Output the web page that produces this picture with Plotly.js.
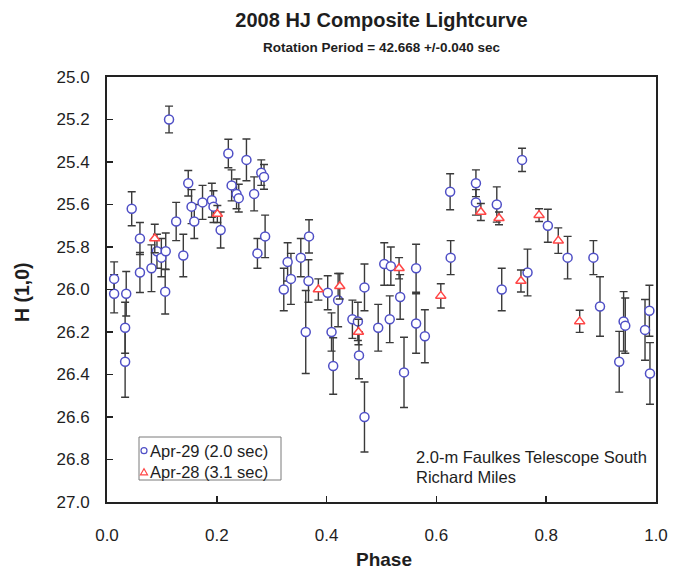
<!DOCTYPE html>
<html>
<head>
<meta charset="utf-8">
<script src="https://cdn.plot.ly/plotly-3.0.1.min.js"></script>
<style>html,body{margin:0;padding:0;background:#fff;}#chart{width:674px;height:571px;}</style>
</head>
<body>
<div id="chart"></div>
<script>
// Apr-29 (2.0 sec) series
const apr29Phase = [0.013,0.013,0.035,0.033,0.033,0.045,0.060,0.060,0.081,0.091,0.099,0.107,0.106,0.113,0.126,0.139,0.148,0.154,0.159,0.174,0.191,0.194,0.207,0.221,0.227,0.236,0.240,0.254,0.268,0.274,0.281,0.286,0.288,0.322,0.329,0.335,0.353,0.368,0.367,0.362,0.402,0.409,0.412,0.421,0.447,0.457,0.459,0.469,0.469,0.494,0.505,0.517,0.515,0.534,0.541,0.563,0.563,0.579,0.625,0.626,0.672,0.672,0.710,0.719,0.756,0.766,0.803,0.839,0.886,0.898,0.941,0.944,0.933,0.988,0.980,0.989];
const apr29H = [25.95,26.02,26.02,26.18,26.34,25.62,25.76,25.92,25.90,25.82,25.85,25.82,26.01,25.20,25.68,25.84,25.50,25.61,25.68,25.59,25.58,25.61,25.72,25.36,25.51,25.55,25.57,25.39,25.55,25.83,25.45,25.47,25.75,26.00,25.87,25.95,25.85,25.75,25.96,26.20,26.015,26.20,26.36,26.05,26.14,26.15,26.31,25.99,26.60,26.18,25.88,25.89,26.14,26.035,26.39,25.90,26.16,26.22,25.54,25.85,25.50,25.59,25.60,26.00,25.39,25.92,25.70,25.85,25.85,26.08,26.15,26.17,26.34,26.10,26.19,26.395];
const apr29Err = [0.08,0.09,0.105,0.12,0.167,0.08,0.075,0.094,0.11,0.08,0.09,0.086,0.105,0.063,0.09,0.10,0.06,0.08,0.08,0.08,0.08,0.075,0.085,0.067,0.073,0.07,0.065,0.098,0.08,0.07,0.06,0.058,0.10,0.10,0.09,0.12,0.09,0.078,0.10,0.195,0.08,0.09,0.133,0.125,0.09,0.09,0.11,0.11,0.165,0.11,0.10,0.09,0.11,0.105,0.165,0.113,0.14,0.125,0.085,0.08,0.063,0.06,0.083,0.10,0.055,0.11,0.078,0.10,0.08,0.14,0.14,0.13,0.143,0.12,0.143,0.145];

// Apr-28 (3.1 sec) series
const apr28Phase = [0.087,0.201,0.385,0.424,0.458,0.532,0.608,0.681,0.714,0.754,0.787,0.822,0.861];
const apr28H = [25.76,25.645,26.00,25.985,26.20,25.90,26.03,25.635,25.665,25.96,25.65,25.77,26.15];
const apr28Err = [0.067,0.04,0.05,0.06,0.06,0.05,0.057,0.04,0.03,0.052,0.03,0.06,0.052];

const seriesNames = ['Apr-29 (2.0 sec)', 'Apr-28 (3.1 sec)'];
const xTickVals = [0, 0.2, 0.4, 0.6, 0.8, 1.0];
const xTickText = ['0.0','0.2','0.4','0.6','0.8','1.0'];
const yTickVals = [25.0,25.2,25.4,25.6,25.8,26.0,26.2,26.4,26.6,26.8,27.0];
const yTickText = ['25.0','25.2','25.4','25.6','25.8','26.0','26.2','26.4','26.6','26.8','27.0'];

const FONT = 'Arial, "Liberation Sans", sans-serif';
const BLUE = '#4f4fc6', RED = '#ff4646', INK = '#1e1e1e';

// layout geometry (pixels)
const W = 674, H = 571, ML = 107, MR = 18, MT = 77, MB = 69;
const PW = W - ML - MR, PH = H - MT - MB;
const px2x = p => (p - ML) / PW;
const py2y = p => (H - MB - p) / PH;

const traces = [
  {
    x: apr29Phase, y: apr29H, type: 'scatter', mode: 'markers', name: seriesNames[0],
    error_y: {type: 'data', array: apr29Err, visible: true, color: '#3a3a3a', thickness: 1.4, width: 4},
    marker: {symbol: 'circle', size: 9, color: '#ffffff', line: {color: BLUE, width: 1.5}}
  },
  {
    x: apr28Phase, y: apr28H, type: 'scatter', mode: 'markers', name: seriesNames[1],
    error_y: {type: 'data', array: apr28Err, visible: true, color: '#3a3a3a', thickness: 1.4, width: 4},
    marker: {symbol: 'triangle-up', size: 9, color: '#ffffff', line: {color: RED, width: 1.5}}
  }
];

const axisCommon = {
  showgrid: false, zeroline: false, showline: true, mirror: true,
  linecolor: '#222', linewidth: 2, ticks: 'inside', ticklen: 6, tickwidth: 1.5, tickcolor: '#222',
  tickfont: {family: FONT, size: 17, color: INK}
};

const legendRows = [450.7, 472.3];

const layout = {
  width: W, height: H,
  margin: {l: ML, r: MR, t: MT, b: MB},
  paper_bgcolor: '#ffffff', plot_bgcolor: '#ffffff',
  font: {family: FONT, color: INK},
  showlegend: false,
  title: {text: '<b>2008 HJ Composite Lightcurve</b>', font: {family: FONT, size: 20, color: INK},
          xref: 'paper', x: 0.5, xanchor: 'center', yref: 'container', y: 1 - 20 / H, yanchor: 'middle'},
  xaxis: Object.assign({}, axisCommon, {range: [0, 1], tickvals: xTickVals, ticktext: xTickText, ticklabelstandoff: 17}),
  yaxis: Object.assign({}, axisCommon, {range: [27, 25], tickvals: yTickVals, ticktext: yTickText, ticklabelstandoff: 12}),
  shapes: [
    {type: 'rect', xref: 'paper', yref: 'paper', x0: px2x(139), x1: px2x(281), y0: py2y(480), y1: py2y(437),
     line: {color: '#7a7a7a', width: 1}, fillcolor: '#ffffff', layer: 'above'},
    {type: 'circle', xref: 'paper', yref: 'paper', xsizemode: 'pixel', ysizemode: 'pixel',
     xanchor: px2x(144), yanchor: py2y(legendRows[0]), x0: -3, x1: 3, y0: -3, y1: 3,
     line: {color: BLUE, width: 1.2}, fillcolor: 'rgba(0,0,0,0)', layer: 'above'},
    {type: 'path', xref: 'paper', yref: 'paper', xsizemode: 'pixel', ysizemode: 'pixel',
     xanchor: px2x(144), yanchor: py2y(legendRows[1]), path: 'M -3.5 -2.5 L 3.5 -2.5 L 0 3.5 Z',
     line: {color: RED, width: 1.2}, fillcolor: 'rgba(0,0,0,0)', layer: 'above'}
  ],
  annotations: [
    {text: '<b>Rotation Period = 42.668 +/-0.040 sec</b>', xref: 'paper', yref: 'paper', x: 0.5, y: py2y(47),
     xanchor: 'center', yanchor: 'middle', showarrow: false, font: {family: FONT, size: 13.5, color: INK}},
    {text: '<b>H (1,0)</b>', xref: 'paper', yref: 'paper', x: px2x(22), y: py2y(292), textangle: -90,
     xanchor: 'center', yanchor: 'middle', showarrow: false, font: {family: FONT, size: 19.5, color: INK}},
    {text: '<b>Phase</b>', xref: 'paper', yref: 'paper', x: px2x(384), y: py2y(559),
     xanchor: 'center', yanchor: 'middle', showarrow: false, font: {family: FONT, size: 19, color: INK}},
    {text: seriesNames[0], xref: 'paper', yref: 'paper', x: px2x(148), y: py2y(legendRows[0]),
     xanchor: 'left', yanchor: 'middle', showarrow: false, font: {family: FONT, size: 16.5, color: INK}},
    {text: seriesNames[1], xref: 'paper', yref: 'paper', x: px2x(148), y: py2y(legendRows[1]),
     xanchor: 'left', yanchor: 'middle', showarrow: false, font: {family: FONT, size: 16.5, color: INK}},
    {text: '2.0-m Faulkes Telescope South', xref: 'paper', yref: 'paper', x: px2x(414), y: py2y(457),
     xanchor: 'left', yanchor: 'middle', showarrow: false, font: {family: FONT, size: 16.5, color: INK}},
    {text: 'Richard Miles', xref: 'paper', yref: 'paper', x: px2x(414), y: py2y(477),
     xanchor: 'left', yanchor: 'middle', showarrow: false, font: {family: FONT, size: 16.5, color: INK}}
  ]
};

Plotly.newPlot('chart', traces, layout, {displayModeBar: false, staticPlot: true});
</script>
</body>
</html>
